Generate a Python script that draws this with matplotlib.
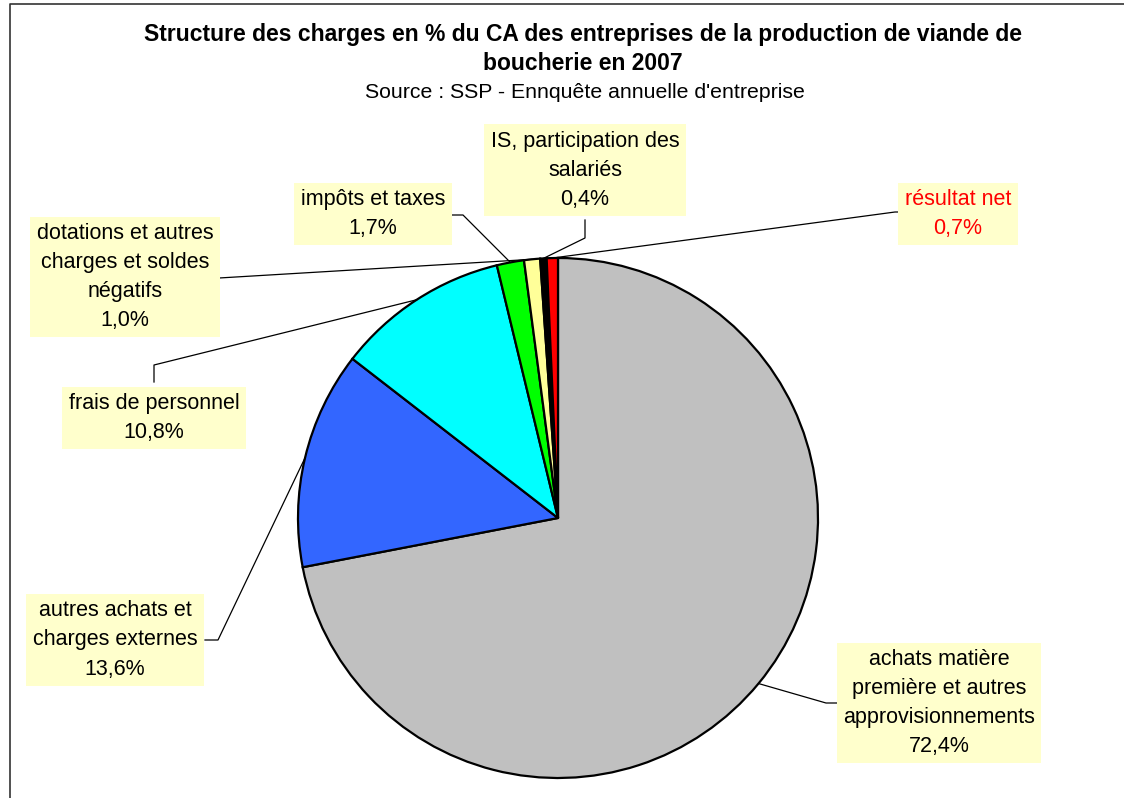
import numpy as np
import matplotlib
matplotlib.use("Agg")
import matplotlib.pyplot as plt

plt.rcParams["font.family"] = ["Liberation Sans", "DejaVu Sans"]

# ── Données ────────────────────────────────────────────────────────────────
labels = [
    "achats matière\npremière et autres\napprovisionnements",
    "autres achats et\ncharges externes",
    "frais de personnel",
    "impôts et taxes",
    "dotations et autres\ncharges et soldes\nnégatifs",
    "IS, participation des\nsalariés",
    "résultat net",
]
values = [72.4, 13.6, 10.8, 1.7, 1.0, 0.4, 0.7]
colors = ["#C0C0C0", "#3366FF", "#00FFFF", "#00FF00", "#FFFF99", "#000000", "#FF0000"]
text_colors = ["black"] * 6 + ["#FF0000"]

# position des étiquettes (pixels image) : centre du texte, coude, point d'attache
W, H = 1124, 798
lab_center = [(939, 703), (115, 640), (154, 418), (373, 214), (125, 277), (585, 170), (958, 214)]
lab_elbow = [(826, 703), (218, 640), (154, 365), (463, 215), (219, 278), (585, 238), (895, 212)]
lab_anchor = [(838, 703), (205, 640), (154, 382), (452, 215), (219, 278), (585, 220), (908, 212)]

CX, CY, R = 558, 518, 260

fig = plt.figure(figsize=(W / 100, H / 100), dpi=100)
ax = fig.add_axes([0, 0, 1, 1])

wedges, _ = ax.pie(
    values, colors=colors, startangle=90, counterclock=False,
    center=(CX, H - CY), radius=R,
    wedgeprops=dict(edgecolor="black", linewidth=1.6),
)
ax.set_xlim(0, W)
ax.set_ylim(0, H)
ax.set_aspect("equal")
ax.axis("off")

# cadre (gauche + haut)
ax.plot([10, 10, W], [0, H - 4, H - 4], color="#333333", lw=1.2, clip_on=False)

# ── Étiquettes avec lignes de rappel ──────────────────────────────────────
for w, lab, v, tc, c, e, a in zip(wedges, labels, values, text_colors,
                                   lab_center, lab_elbow, lab_anchor):
    ang = np.deg2rad((w.theta1 + w.theta2) / 2)
    px = CX + R * np.cos(ang)
    py = (H - CY) + R * np.sin(ang)
    ax.plot([px, e[0], a[0]], [py, H - e[1], H - a[1]], color="black", lw=0.9, zorder=1)
    txt = f"{lab}\n{v:.1f}%".replace(".", ",")
    ax.text(c[0], H - c[1], txt, ha="center", va="center", fontsize=15.5, color=tc,
            linespacing=1.5, zorder=3,
            bbox=dict(boxstyle="square,pad=0.3", fc="#FFFFCC", ec="none"))

# ── Titre ─────────────────────────────────────────────────────────────────
ax.text(583, H - 35, "Structure des charges en % du CA des entreprises de la production de viande de",
        ha="center", va="center", fontsize=16.5, fontweight="bold")
ax.text(583, H - 63, "boucherie en 2007", ha="center", va="center", fontsize=16.5, fontweight="bold")
ax.text(585, H - 92, "Source : SSP - Ennquête annuelle d'entreprise",
        ha="center", va="center", fontsize=15.3)

fig.savefig("out.png", dpi=100)
